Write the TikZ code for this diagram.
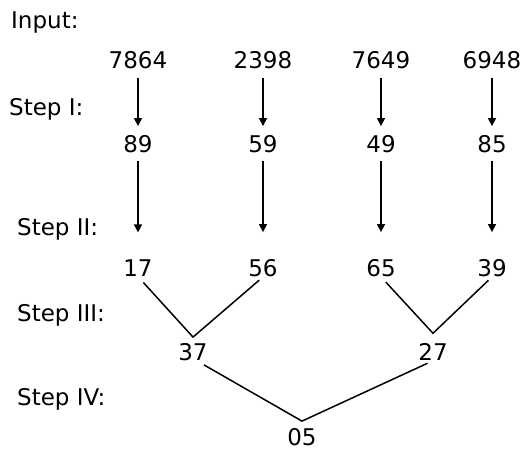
\documentclass[tikz,border=0pt]{standalone}
\usepackage{fontspec}
\setmainfont{DejaVu Sans}
\usetikzlibrary{arrows.meta,positioning}
\tikzset
{
    num/.style       = {inner sep=0pt, font=\fontsize{23}{27}\selectfont},
    steplabel/.style = {inner sep=0pt, anchor=base west, font=\fontsize{23}{27}\selectfont},
    arrow/.style     = {line width=1.5pt, -{Triangle[length=8pt,width=8pt]}},
    joinline/.style  = {line width=1.5pt}
}

\begin{document}
\begin{tikzpicture}[x=1pt, y=-1pt]
\useasboundingbox (0,0) rectangle (524,452);
% step labels
\node(input) [steplabel] at (11,29) {Input:};
\node(stepa) [steplabel] at (9,115) {Step I:};
\node(stepb) [steplabel] at (17,235) {Step II:};
\node(stepc) [steplabel] at (17,321) {Step III:};
\node(stepd) [steplabel] at (17,405) {Step IV:};
% input
\node(ia) [num] at (138,60) {7864};
\node(ib) [num] at (263,60) {2398};
\node(ic) [num] at (381,60) {7649};
\node(id) [num] at (492,60) {6948};
% step I
\node(xa) [num] at (138,144) {89};
\node(xb) [num] at (263,144) {59};
\node(xc) [num] at (381,144) {49};
\node(xd) [num] at (492,144) {85};
% step II
\node(ya) [num] at (138,268) {17};
\node(yb) [num] at (263,268) {56};
\node(yc) [num] at (381,268) {65};
\node(yd) [num] at (492,268) {39};
% step III
\node(za) [num] at (193,352) {37};
\node(zb) [num] at (433,352) {27};
% step IV
\node(res) [num] at (302,437) {05};
\coordinate(ja) at ([yshift=6pt]za.north);
\coordinate(jb) at ([yshift=10pt]zb.north);
\coordinate(jres) at ([yshift=7pt]res.north);
\draw[arrow, shorten <=9pt, shorten >=9pt] (ia.south) -- (xa.north);
\draw[arrow, shorten <=9pt, shorten >=9pt] (ib.south) -- (xb.north);
\draw[arrow, shorten <=9pt, shorten >=9pt] (ic.south) -- (xc.north);
\draw[arrow, shorten <=9pt, shorten >=9pt] (id.south) -- (xd.north);
\draw[arrow, shorten <=8pt, shorten >=27pt] (xa.south) -- (ya.north);
\draw[arrow, shorten <=8pt, shorten >=27pt] (xb.south) -- (yb.north);
\draw[arrow, shorten <=8pt, shorten >=27pt] (xc.south) -- (yc.north);
\draw[arrow, shorten <=8pt, shorten >=27pt] (xd.south) -- (yd.north);
\draw[joinline, shorten <=8pt, shorten >=5pt] (ya.south) -- (ja) -- (yb.south);
\draw[joinline, shorten <=7pt, shorten >=5pt] (yc.south) -- (jb) -- (yd.south);
\draw[joinline, shorten <=8pt, shorten >=6pt] ([xshift=4pt]za.south) -- (jres) -- (zb.south);
\end{tikzpicture}
\end{document}
